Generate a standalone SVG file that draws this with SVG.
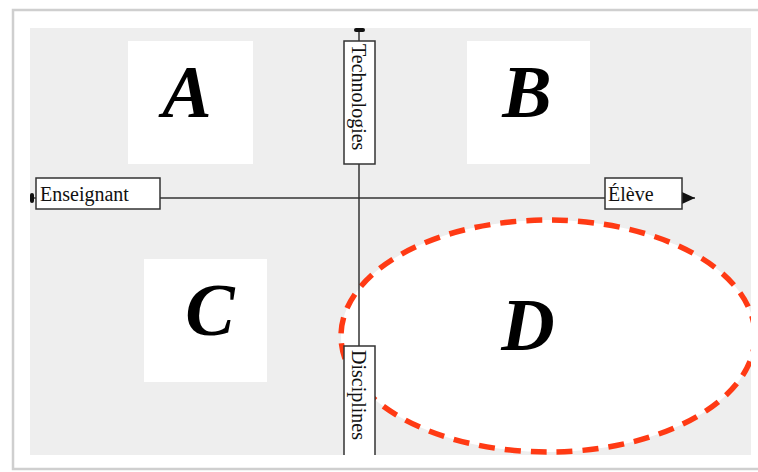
<svg xmlns="http://www.w3.org/2000/svg" width="758" height="472" viewBox="0 0 758 472">
<defs>
<style>
.lbl{font-family:"Liberation Serif","Times New Roman",serif;font-size:20px;fill:#111}
.big{font-family:"Liberation Serif","Times New Roman",serif;font-size:74px;font-weight:bold;font-style:italic;fill:#000;text-anchor:middle}
.box{fill:#fff;stroke:#333;stroke-width:1.5}
.quad{fill:#fff}
.axis{stroke:#333;stroke-width:1.5;fill:none}
</style>
<marker id="arr" markerWidth="14" markerHeight="12" refX="13" refY="6" orient="auto" markerUnits="userSpaceOnUse">
<path d="M0,0 L13,6 L0,12 Z" fill="#111"/>
</marker>
<clipPath id="panel"><rect x="30" y="28" width="721" height="427"/></clipPath>
</defs>
<rect width="758" height="472" fill="#fff"/>
<rect x="13" y="10" width="760" height="459" fill="#fff" stroke="#cfcfcf" stroke-width="2.5"/>
<rect x="30" y="28" width="721" height="427" fill="#eeeeee"/>

<g id="quadA"><rect class="quad" x="128" y="41" width="125" height="123"/><text class="big" x="187" y="117">A</text></g>
<g id="quadB"><rect class="quad" x="467" y="41" width="123" height="123"/><text class="big" x="527" y="117">B</text></g>
<g id="quadC"><rect class="quad" x="144" y="259" width="123" height="123"/><text class="big" x="210" y="335">C</text></g>
<g id="quadD" clip-path="url(#panel)"><ellipse cx="548" cy="336" rx="207" ry="116" fill="#fff" stroke="#ff3a14" stroke-width="5.5" stroke-dasharray="16 10"/><text class="big" x="528" y="350">D</text></g>

<g id="connectors">
<line class="axis" x1="33" y1="198" x2="695" y2="198" marker-end="url(#arr)"/>
<line class="axis" x1="359" y1="30" x2="359" y2="455"/>
<rect x="30" y="193" width="4" height="10" rx="2" fill="#111"/>
<rect x="354" y="28" width="11" height="4" rx="2" fill="#111"/>
</g>

<g id="enseignant"><rect class="box" x="36" y="178" width="124" height="31"/><text class="lbl" x="40" y="201">Enseignant</text></g>
<g id="eleve"><rect class="box" x="605" y="178" width="77" height="31"/><text class="lbl" x="608" y="201">Élève</text></g>
<g id="technologies"><rect class="box" x="344" y="41" width="31" height="123"/><text class="lbl" transform="translate(352,44) rotate(90)">Technologies</text></g>
<g id="disciplines"><path class="box" d="M344,455 V346 H375 V455"/><text class="lbl" transform="translate(352,350) rotate(90)">Disciplines</text></g>
</svg>
